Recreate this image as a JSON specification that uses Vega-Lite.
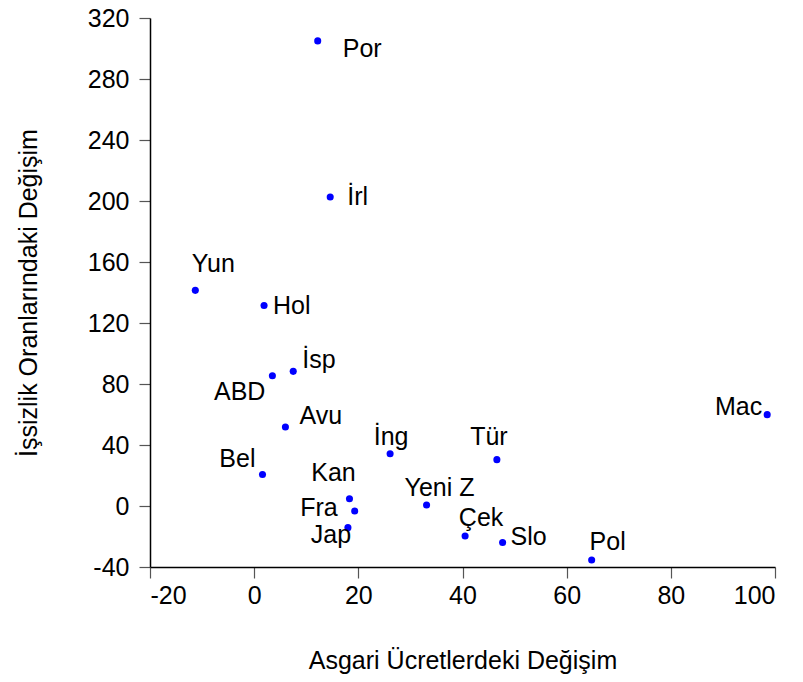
{
  "$schema": "https://vega.github.io/schema/vega-lite/v6.json",
  "autosize": "none",
  "width": 625,
  "height": 549,
  "padding": {"left": 150, "top": 18, "right": 28, "bottom": 115},
  "background": "white",
  "config": {
    "view": {"stroke": null},
    "font": "Liberation Sans",
    "axis": {
      "grid": false,
      "domainColor": "#000000",
      "domainWidth": 1.5,
      "tickColor": "#555555",
      "tickWidth": 1.2,
      "tickSize": 11,
      "labelFont": "Liberation Sans",
      "labelFontSize": 25,
      "labelColor": "#000000",
      "labelExpr": "'' + datum.value",
      "titleFont": "Liberation Sans",
      "titleFontSize": 25,
      "titleFontWeight": "normal",
      "titleColor": "#000000"
    }
  },
  "data": {
    "values": [
      {"country": "Por", "minwage": 12.2, "unemp": 305.0},
      {"country": "İrl", "minwage": 14.6, "unemp": 202.6},
      {"country": "Yun", "minwage": -11.3, "unemp": 141.4},
      {"country": "Hol", "minwage": 1.9, "unemp": 131.5},
      {"country": "İsp", "minwage": 7.5, "unemp": 88.3},
      {"country": "ABD", "minwage": 3.5, "unemp": 85.4},
      {"country": "Avu", "minwage": 6.0, "unemp": 51.8},
      {"country": "Bel", "minwage": 1.6, "unemp": 20.7},
      {"country": "İng", "minwage": 26.1, "unemp": 34.3},
      {"country": "Tür", "minwage": 46.6, "unemp": 30.4},
      {"country": "Mac", "minwage": 98.5, "unemp": 59.9},
      {"country": "Kan", "minwage": 18.3, "unemp": 4.8},
      {"country": "Fra", "minwage": 19.3, "unemp": -3.3},
      {"country": "Jap", "minwage": 18.0, "unemp": -14.2},
      {"country": "Yeni Z", "minwage": 33.1, "unemp": 0.7},
      {"country": "Çek", "minwage": 40.5, "unemp": -19.7},
      {"country": "Slo", "minwage": 47.7, "unemp": -23.9},
      {"country": "Pol", "minwage": 64.8, "unemp": -35.4}
    ]
  },
  "encoding": {
    "x": {
      "field": "minwage", "type": "quantitative",
      "scale": {"domain": [-20, 100], "nice": false, "zero": false},
      "axis": {"values": [-20, 0, 20, 40, 60, 80, 100], "title": "Asgari Ücretlerdeki Değişim", "labelPadding": 5, "titlePadding": 40}
    },
    "y": {
      "field": "unemp", "type": "quantitative",
      "scale": {"domain": [-40, 320], "nice": false, "zero": false},
      "axis": {"values": [-40, 0, 40, 80, 120, 160, 200, 240, 280, 320], "title": "İşsizlik Oranlarındaki Değişim", "labelPadding": 10, "titlePadding": 46}
    }
  },
  "layer": [
    {"mark": {"type": "circle", "size": 50, "color": "#0000FF", "opacity": 1}},
    {"transform": [{"filter": "datum.country == 'Por'"}], "mark": {"type": "text", "align": "left", "baseline": "alphabetic", "dx": 25, "dy": 16, "fontSize": 25, "color": "#000000"}, "encoding": {"text": {"field": "country"}}},
    {"transform": [{"filter": "datum.country == 'İrl'"}], "mark": {"type": "text", "align": "left", "baseline": "alphabetic", "dx": 17, "dy": 8, "fontSize": 25, "color": "#000000"}, "encoding": {"text": {"field": "country"}}},
    {"transform": [{"filter": "datum.country == 'Yun'"}], "mark": {"type": "text", "align": "center", "baseline": "alphabetic", "dx": 18, "dy": -18, "fontSize": 25, "color": "#000000"}, "encoding": {"text": {"field": "country"}}},
    {"transform": [{"filter": "datum.country == 'Hol'"}], "mark": {"type": "text", "align": "left", "baseline": "alphabetic", "dx": 9, "dy": 9, "fontSize": 25, "color": "#000000"}, "encoding": {"text": {"field": "country"}}},
    {"transform": [{"filter": "datum.country == 'İsp'"}], "mark": {"type": "text", "align": "left", "baseline": "alphabetic", "dx": 9, "dy": -3, "fontSize": 25, "color": "#000000"}, "encoding": {"text": {"field": "country"}}},
    {"transform": [{"filter": "datum.country == 'ABD'"}], "mark": {"type": "text", "align": "right", "baseline": "alphabetic", "dx": -7, "dy": 24, "fontSize": 25, "color": "#000000"}, "encoding": {"text": {"field": "country"}}},
    {"transform": [{"filter": "datum.country == 'Avu'"}], "mark": {"type": "text", "align": "left", "baseline": "alphabetic", "dx": 14, "dy": -3, "fontSize": 25, "color": "#000000"}, "encoding": {"text": {"field": "country"}}},
    {"transform": [{"filter": "datum.country == 'Bel'"}], "mark": {"type": "text", "align": "right", "baseline": "alphabetic", "dx": -7, "dy": -7, "fontSize": 25, "color": "#000000"}, "encoding": {"text": {"field": "country"}}},
    {"transform": [{"filter": "datum.country == 'İng'"}], "mark": {"type": "text", "align": "center", "baseline": "alphabetic", "dx": 1, "dy": -9, "fontSize": 25, "color": "#000000"}, "encoding": {"text": {"field": "country"}}},
    {"transform": [{"filter": "datum.country == 'Tür'"}], "mark": {"type": "text", "align": "center", "baseline": "alphabetic", "dx": -8, "dy": -15, "fontSize": 25, "color": "#000000"}, "encoding": {"text": {"field": "country"}}},
    {"transform": [{"filter": "datum.country == 'Kan'"}], "mark": {"type": "text", "align": "center", "baseline": "alphabetic", "dx": -16, "dy": -18, "fontSize": 25, "color": "#000000"}, "encoding": {"text": {"field": "country"}}},
    {"transform": [{"filter": "datum.country == 'Fra'"}], "mark": {"type": "text", "align": "right", "baseline": "alphabetic", "dx": -17, "dy": 5, "fontSize": 25, "color": "#000000"}, "encoding": {"text": {"field": "country"}}},
    {"transform": [{"filter": "datum.country == 'Jap'"}], "mark": {"type": "text", "align": "center", "baseline": "alphabetic", "dx": -17, "dy": 15, "fontSize": 25, "color": "#000000"}, "encoding": {"text": {"field": "country"}}},
    {"transform": [{"filter": "datum.country == 'Yeni Z'"}], "mark": {"type": "text", "align": "center", "baseline": "alphabetic", "dx": 13, "dy": -9, "fontSize": 25, "color": "#000000"}, "encoding": {"text": {"field": "country"}}},
    {"transform": [{"filter": "datum.country == 'Çek'"}], "mark": {"type": "text", "align": "center", "baseline": "alphabetic", "dx": 16, "dy": -10, "fontSize": 25, "color": "#000000"}, "encoding": {"text": {"field": "country"}}},
    {"transform": [{"filter": "datum.country == 'Slo'"}], "mark": {"type": "text", "align": "left", "baseline": "alphabetic", "dx": 8, "dy": 3, "fontSize": 25, "color": "#000000"}, "encoding": {"text": {"field": "country"}}},
    {"transform": [{"filter": "datum.country == 'Pol'"}], "mark": {"type": "text", "align": "center", "baseline": "alphabetic", "dx": 16, "dy": -10, "fontSize": 25, "color": "#000000"}, "encoding": {"text": {"field": "country"}}},
    {"transform": [{"filter": "datum.country == 'Mac'"}], "mark": {"type": "text", "align": "right", "baseline": "alphabetic", "dx": -5, "dy": 0, "fontSize": 25, "color": "#000000"}, "encoding": {"text": {"field": "country"}}}
  ]
}
